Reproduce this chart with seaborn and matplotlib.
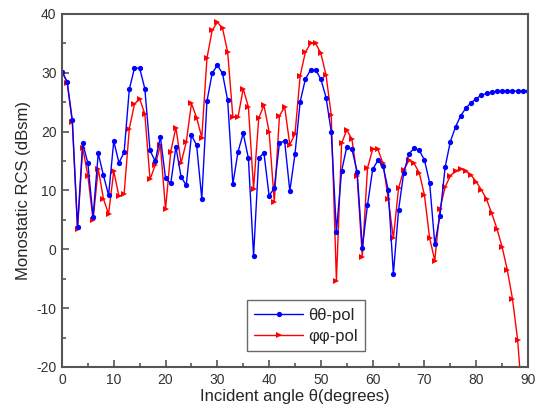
import numpy as np
import pandas as pd
import matplotlib
matplotlib.use('Agg')
import matplotlib.pyplot as plt
import seaborn as sns
from matplotlib.ticker import MultipleLocator

# incident angle, 1 degree steps
theta = list(range(0, 91))

# theta-theta polarisation (dBsm)
rcs_tt = [30.2, 28.5, 21.9, 3.8, 18.1, 14.6, 5.5, 16.3, 12.6, 9.2,
          18.4, 14.7, 16.5, 27.2, 30.8, 30.8, 27.3, 16.8, 15.0, 19.1,
          12.1, 11.2, 17.4, 12.3, 10.9, 19.4, 17.7, 8.6, 25.2, 29.9,
          31.3, 29.9, 25.3, 11.1, 16.6, 19.7, 15.5, -1.1, 15.5, 16.4,
          9.1, 10.4, 18.1, 18.4, 9.9, 16.2, 25.1, 28.9, 30.5, 30.5,
          28.9, 25.8, 20.0, 3.0, 13.3, 17.4, 17.0, 13.2, 0.3, 7.5,
          13.6, 15.1, 14.2, 10.1, -4.2, 6.7, 13.0, 16.2, 17.2, 16.8,
          15.2, 11.3, 0.9, 5.7, 14.0, 18.3, 20.8, 22.7, 24.0, 24.9,
          25.6, 26.2, 26.5, 26.7, 26.9, 26.9, 26.9, 26.9, 26.9, 26.9,
          26.9]

# phi-phi polarisation (dBsm)
rcs_pp = [30.3, 28.3, 21.6, 3.4, 17.3, 12.5, 5.0, 13.7, 8.6, 6.0,
          13.3, 9.0, 9.4, 20.5, 24.7, 25.6, 23.0, 11.9, 14.3, 17.7,
          6.8, 16.6, 20.7, 14.7, 18.2, 24.8, 22.4, 19.0, 32.5, 37.2,
          38.6, 37.6, 33.5, 22.5, 22.5, 27.3, 24.2, 10.3, 22.3, 24.5,
          20.0, 8.1, 22.7, 24.2, 17.8, 19.6, 29.5, 33.5, 35.0, 35.0,
          33.3, 29.6, 22.8, -5.3, 18.0, 20.3, 18.7, 12.5, -1.3, 13.8,
          17.0, 17.0, 14.6, 8.6, 1.9, 10.4, 13.5, 15.1, 14.6, 13.0,
          9.2, 1.9, -1.9, 6.9, 10.6, 12.5, 13.3, 13.7, 13.3, 12.6,
          11.5, 10.1, 8.5, 6.1, 3.5, 0.4, -3.5, -8.4, -15.4, -27.0,
          -45.0]

df = pd.DataFrame({'theta': theta, 'tt': rcs_tt, 'pp': rcs_pp})

sns.set_style('ticks')
plt.rcParams['font.family'] = ['Liberation Sans', 'DejaVu Sans']
plt.rcParams['axes.unicode_minus'] = False

fig = plt.figure(figsize=(5.39, 4.09), dpi=100)
ax = fig.add_axes([0.115, 0.1027, 0.8646, 0.8631])

sns.lineplot(data=df, x='theta', y='pp', ax=ax, color='red', marker='>',
             markersize=4.2, markeredgewidth=0, linewidth=1, label='φφ-pol')
sns.lineplot(data=df, x='theta', y='tt', ax=ax, color='blue', marker='o',
             markersize=3.8, markeredgewidth=0, linewidth=1, label='θθ-pol')

ax.set_xlim(0, 90)
ax.set_ylim(-20, 40)
ax.xaxis.set_major_locator(MultipleLocator(10))
ax.xaxis.set_minor_locator(MultipleLocator(5))
ax.yaxis.set_major_locator(MultipleLocator(10))
ax.yaxis.set_minor_locator(MultipleLocator(5))

bwith = 1.5
for s in ['bottom', 'left', 'top', 'right']:
    ax.spines[s].set_linewidth(bwith)
    ax.spines[s].set_color('#555555')
    ax.spines[s].set_visible(True)

ax.tick_params(which='major', direction='in', length=5, width=1.2,
               color='#555555', labelsize=10, labelcolor='#333333', pad=4)
ax.tick_params(which='minor', direction='in', length=3, width=1.2,
               color='#555555')

ax.set_xlabel('Incident angle θ(degrees)', fontsize=12, labelpad=2)
ax.set_ylabel('Monostatic RCS (dBsm)', fontsize=12, labelpad=4)

h, l = ax.get_legend_handles_labels()
leg = ax.legend(h[::-1], l[::-1], loc='lower left',
                bbox_to_anchor=(0.397, 0.045), borderaxespad=0,
                fontsize=12, frameon=True, fancybox=False,
                handlelength=2.9, borderpad=0.45, labelspacing=0.35,
                handletextpad=0.3)
leg.get_frame().set_edgecolor('#444444')
leg.get_frame().set_linewidth(1.0)

fig.savefig('out.png', dpi=100)
